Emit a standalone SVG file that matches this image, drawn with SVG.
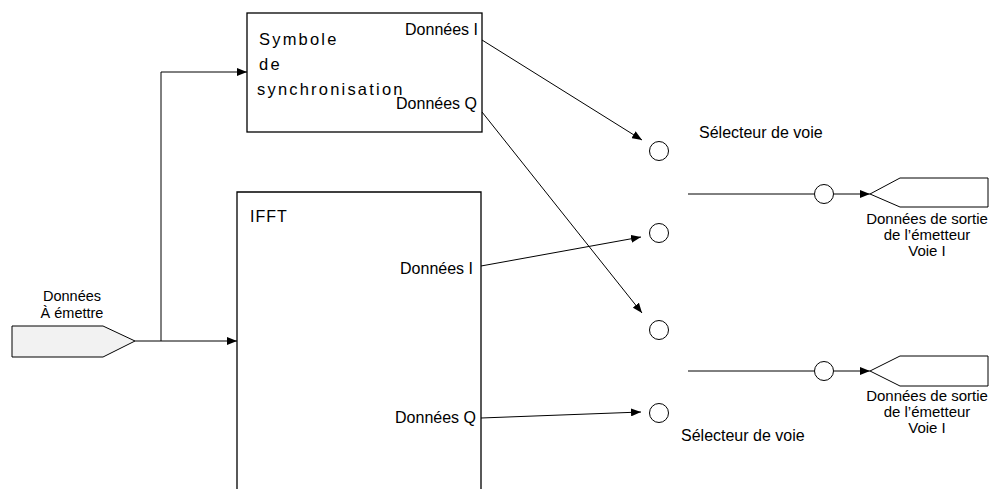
<svg xmlns="http://www.w3.org/2000/svg" width="994" height="489" viewBox="0 0 994 489">
<style>
  text { font-family: "Liberation Sans", Arial, sans-serif; fill: #000; }
  .t { font-size: 16px; }
  .s { font-size: 15px; }
  .i { font-size: 14.5px; }
  .big { font-size: 16.5px; letter-spacing: 2.2px; }
  .box { fill: #fff; stroke: #000; stroke-width: 1.3; }
  .c { fill: #fff; stroke: #000; stroke-width: 1; }
  .ln { fill: none; stroke: #000; stroke-width: 1; }
  .arr { fill: none; stroke: #000; stroke-width: 1; marker-end: url(#ah); }
</style>
<defs>
  <marker id="ah" viewBox="0 0 10 8" refX="10" refY="4" markerWidth="10" markerHeight="8" markerUnits="userSpaceOnUse" orient="auto">
    <path d="M0,0 L10,4 L0,8 Z" fill="#000"/>
  </marker>
</defs>
<rect width="994" height="489" fill="#fff"/>

<g id="input">
  <polygon points="12,326 103,326 135,341 103,357 12,357" fill="#f2f2f2" stroke="#000" stroke-width="1"/>
  <text class="i" x="72" y="301" text-anchor="middle">Données</text>
  <text class="i" x="72" y="318" text-anchor="middle">À émettre</text>
</g>

<g id="sync">
  <rect class="box" x="247" y="13" width="235" height="119"/>
  <text class="big" x="259" y="45">Symbole</text>
  <text class="big" x="259" y="70">de</text>
  <text class="big" x="257" y="95">synchronisation</text>
  <text class="t" x="478" y="35" text-anchor="end">Données I</text>
  <text class="t" x="477" y="109" text-anchor="end">Données Q</text>
</g>

<g id="ifft">
  <path class="box" d="M237,495 L237,192 L481,192 L481,495"/>
  <text class="t" x="250" y="222" style="letter-spacing:1px">IFFT</text>
  <text class="t" x="473" y="274" text-anchor="end">Données I</text>
  <text class="t" x="476" y="423" text-anchor="end">Données Q</text>
</g>

<g id="sel1"><circle class="c" cx="659" cy="151" r="9.5"/></g>
<g id="sel2"><circle class="c" cx="659" cy="233" r="9.5"/></g>
<g id="sel3"><circle class="c" cx="659" cy="330" r="9.5"/></g>
<g id="sel4"><circle class="c" cx="659" cy="413" r="9.5"/></g>
<g id="lbl-sel">
  <text class="t" x="699" y="138">Sélecteur de voie</text>
  <text class="t" x="681" y="441">Sélecteur de voie</text>
</g>

<g id="mix1"><circle class="c" cx="824" cy="194" r="9.5"/></g>
<g id="mix2"><circle class="c" cx="824" cy="371" r="9.5"/></g>

<g id="out1">
  <polygon points="870,194 900,178 988,178 988,207 900,207" fill="#fff" stroke="#000" stroke-width="1"/>
  <text class="s" x="927" y="224" text-anchor="middle">Données de sortie</text>
  <text class="s" x="927" y="240" text-anchor="middle">de l’émetteur</text>
  <text class="s" x="927" y="256" text-anchor="middle">Voie I</text>
</g>
<g id="out2">
  <polygon points="870,371 900,356 988,356 988,386 900,386" fill="#fff" stroke="#000" stroke-width="1"/>
  <text class="s" x="927" y="401" text-anchor="middle">Données de sortie</text>
  <text class="s" x="927" y="417" text-anchor="middle">de l’émetteur</text>
  <text class="s" x="927" y="433" text-anchor="middle">Voie I</text>
</g>

<g id="connectors">
  <path class="arr" d="M135,341 L237,341"/>
  <path class="arr" d="M161,341 L161,72 L247,72"/>
  <path class="arr" d="M482,40 L642,140"/>
  <path class="arr" d="M482,112 L642,313"/>
  <path class="arr" d="M481,266 L641,237"/>
  <path class="arr" d="M481,418 L641,412"/>
  <path class="ln" d="M688,194 L814,194"/>
  <path class="arr" d="M834,194 L870,194"/>
  <path class="ln" d="M688,371 L814,371"/>
  <path class="arr" d="M834,371 L870,371"/>
</g>
</svg>
